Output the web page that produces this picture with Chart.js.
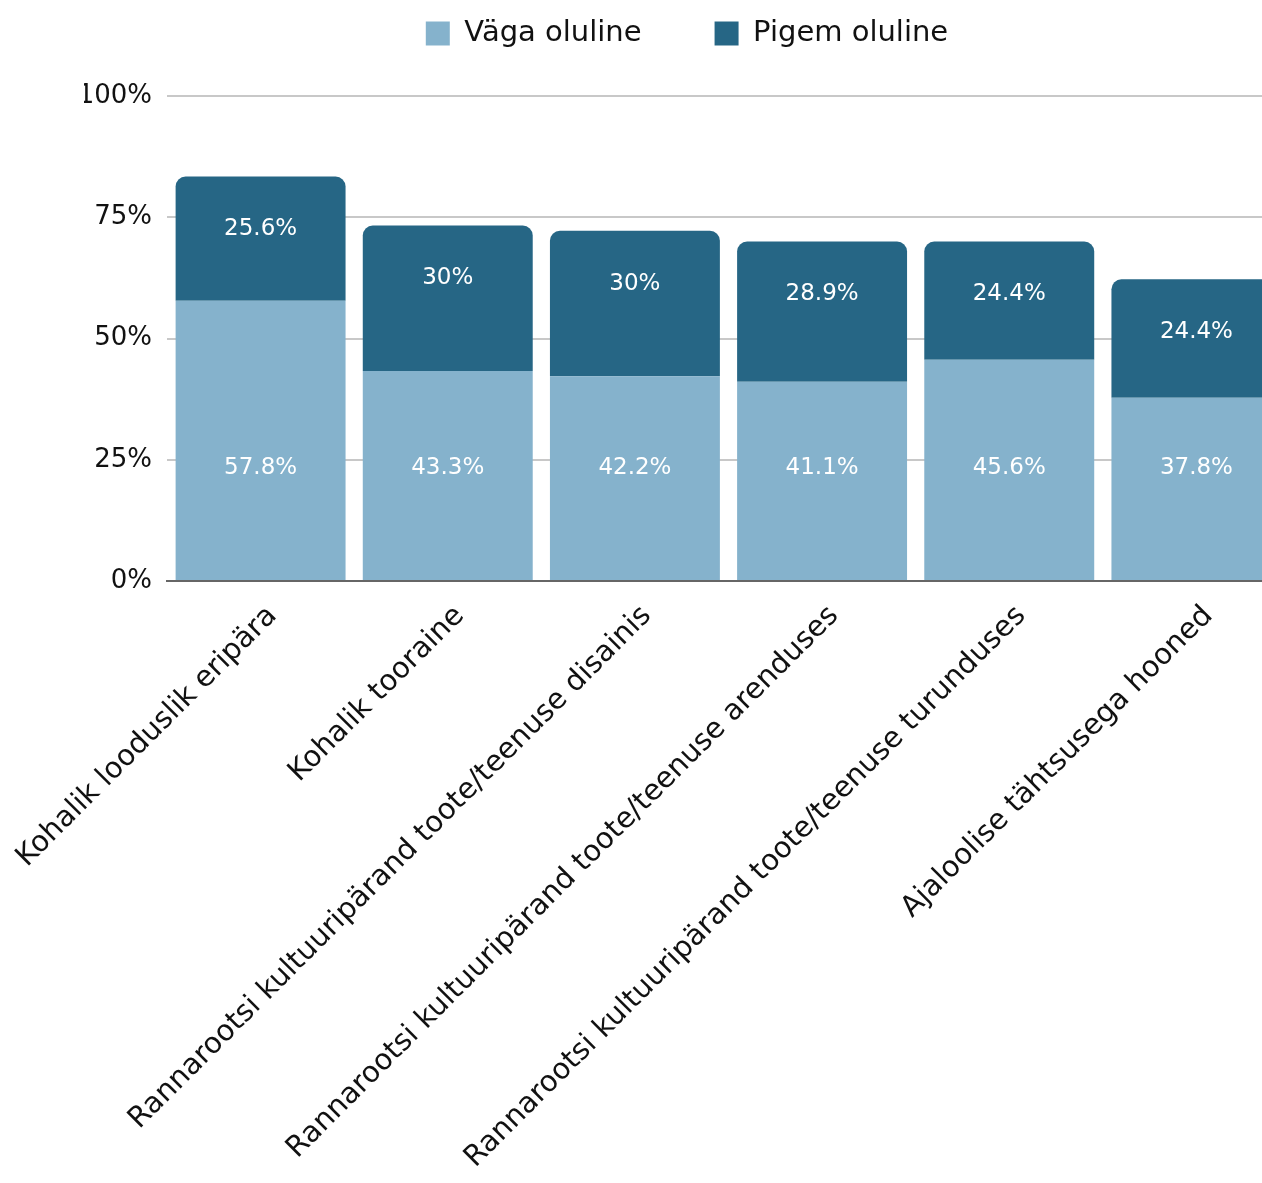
<!DOCTYPE html>
<html lang="et">
<head>
<meta charset="utf-8">
<title>Oluline</title>
<script src="https://cdn.jsdelivr.net/npm/chart.js@4"></script>
<style>
    html, body { margin: 0; padding: 0; background: #fff; overflow: hidden; }
    .wrap { position: relative; width: 1262px; height: 1183px; overflow: hidden; }
    #oluChart { position: absolute; left: 0; top: 0; }
</style>
</head>
<body>
<div class="wrap">
    <canvas id="oluChart" width="1290" height="1183"></canvas>
</div>
<script>
// categories and values (percent)
const categories = [
    "Kohalik looduslik eripära",
    "Kohalik tooraine",
    "Rannarootsi kultuuripärand toote/teenuse disainis",
    "Rannarootsi kultuuripärand toote/teenuse arenduses",
    "Rannarootsi kultuuripärand toote/teenuse turunduses",
    "Ajaloolise tähtsusega hooned"
];
const vagaOluline = [57.8, 43.3, 42.2, 41.1, 45.6, 37.8];
const pigemOluline = [25.6, 30, 30, 28.9, 24.4, 24.4];
const yTicks = [0, 25, 50, 75, 100];

const FONT = "'DejaVu Sans', sans-serif";

// white value labels inside the bars
const barLabels = {
    id: 'barLabels',
    afterDatasetsDraw(chart) {
        const ctx = chart.ctx;
        const yScale = chart.scales.y;
        ctx.save();
        ctx.fillStyle = '#ffffff';
        ctx.font = '23px ' + FONT;
        ctx.textAlign = 'center';
        ctx.textBaseline = 'middle';
        chart.data.datasets.forEach((ds, di) => {
            const meta = chart.getDatasetMeta(di);
            meta.data.forEach((bar, i) => {
                let y;
                if (di === 0) y = yScale.getPixelForValue(23.3); // lower labels sit on one line
                else y = bar.y + 53;                          // upper labels hang from the bar top
                ctx.fillText(ds.data[i] + '%', bar.x, y);
            });
        });
        ctx.restore();
    }
};

// legend is wide-spaced (padding), so pin its height to keep the plot top in place
const legendHeight = {
    id: 'legendHeight',
    beforeInit(chart) {
        const fit = chart.legend.fit;
        chart.legend.fit = function () {
            fit.call(this);
            this.height = 137 + 13;
        };
    }
};

const ctx = document.getElementById('oluChart').getContext('2d');
new Chart(ctx, {
    type: 'bar',
    data: {
        labels: categories,
        datasets: [
            {
                label: 'Väga oluline',
                data: vagaOluline,
                backgroundColor: '#85b2cc',
                borderWidth: 0,
                barPercentage: 0.908,
                categoryPercentage: 1
            },
            {
                label: 'Pigem oluline',
                data: pigemOluline,
                backgroundColor: '#266685',
                borderWidth: 0,
                borderRadius: { topLeft: 10, topRight: 10, bottomLeft: 0, bottomRight: 0 },
                borderSkipped: 'start',
                barPercentage: 0.908,
                categoryPercentage: 1
            }
        ]
    },
    options: {
        responsive: false,
        animation: false,
        devicePixelRatio: 1,
        layout: { padding: { left: 84, top: -54, right: 0, bottom: 0 } },
        plugins: {
            legend: {
                position: 'top',
                labels: {
                    boxWidth: 24,
                    boxHeight: 24,
                    padding: 73,
                    color: '#111',
                    font: { family: FONT, size: 29 }
                }
            },
            tooltip: { enabled: false }
        },
        scales: {
            x: {
                stacked: true,
                grid: { display: false },
                border: { display: true, color: '#666666', width: 2 },
                ticks: {
                    color: '#111',
                    font: { family: FONT, size: 29 },
                    minRotation: 45,
                    maxRotation: 45,
                    padding: 10,
                    labelOffset: 12
                },
                afterFit(scale) {
                    scale.height = 1183 - 581;
                    // long rotated labels may hang past the plot; don't let them push it
                    scale.paddingLeft = 0;
                    scale.paddingRight = 0;
                }
            },
            y: {
                stacked: true,
                min: 0,
                max: 100,
                afterBuildTicks(scale) { scale.ticks = yTicks.map(v => ({ value: v })); },
                grid: {
                    color: c => (c.tick && c.tick.value === 0 ? '#666666' : '#c8c8c8'),
                    lineWidth: 2,
                    drawTicks: false
                },
                border: { display: false },
                ticks: {
                    color: '#111',
                    font: { family: FONT, size: 26 },
                    padding: 15,
                    callback: v => v + '%'
                },
                afterFit(scale) { scale.width = 167 - 84; }
            }
        }
    },
    plugins: [barLabels, legendHeight]
});
</script>
</body>
</html>
